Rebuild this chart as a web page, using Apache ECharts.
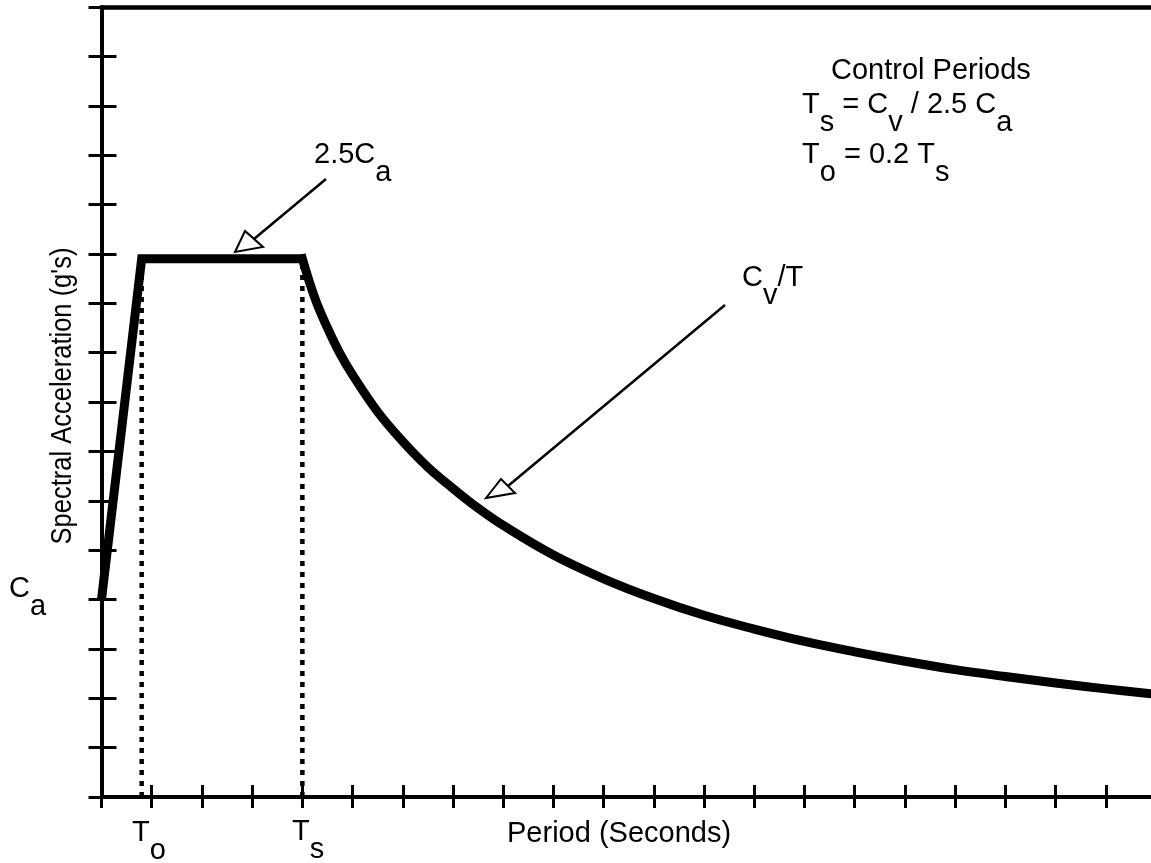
<!DOCTYPE html>
<html><head><meta charset="utf-8">
<script src="https://cdn.jsdelivr.net/npm/echarts@6/dist/echarts.min.js"></script>
<style>html,body{margin:0;padding:0;background:#fff}#c{width:1151px;height:863px}</style>
</head><body><div id="c"></div>
<script>
// ---- data ----
const xTicks = [0,1,2,3,4,5,6,7,8,9,10,11,12,13,14,15,16,17,18,19,20];
const yTicks = [0,1,2,3,4,5,6,7,8,9,10,11,12,13,14,15,16];
const T0 = 0.8;
const TS = 4.0;
const plateauValue = 10.9;
const rampPlateau = [[0,4.0],[0.8,10.9],[4.0,10.9]];
const decayPeriods = [4.0,4.25,4.5,4.75,5.0,5.5,6.0,6.5,7.0,7.5,8.0,9.0,10,11,12,13,14,15,16,17,18,19,20,20.9];
const decayValues  = [10.9,10.1,9.5,8.98,8.55,7.8,7.2,6.68,6.25,5.85,5.5,4.9,4.42,4.02,3.68,3.4,3.15,2.94,2.75,2.58,2.44,2.31,2.19,2.09];

// ---- text annotations [rich text, left px, baseline px] ----
const labels = [
  ['{n|Period (Seconds)}', 507, 843],
  ['{n|T}{s|o}', 132, 842],
  ['{n|T}{s|s}', 292, 841],
  ['{n|C}{s|a}', 9, 598],
  ['{n|2.5C}{s|a}', 314, 164],
  ['{n|C}{s|v}{n|/T}', 742, 287],
  ['{n|Control Periods}', 831, 80],
  ['{n|T}{s|s}{n| = C}{s|v}{n| / 2.5 C}{s|a}', 802, 114],
  ['{n|T}{s|o}{n| = 0.2 T}{s|s}', 802, 164]
];
const arrows = [
  {from:[326,179], tip:[235,252], c1:[245,231], c2:[263,247]},
  {from:[725,305], tip:[486,498], c1:[501,479], c2:[515,493]}
];

const FS = 29, SUB = 18, FF = '"Liberation Sans", Arial, Helvetica, sans-serif';

const chart = echarts.init(document.getElementById('c'), null, {renderer:'canvas'});

const graphics = [];
labels.forEach(([t, x, b]) => {
  graphics.push({type:'text', x:x, y:b - 0.81*FS, z:100,
    style:{text:t, fontSize:FS, fontFamily:FF, fill:'#000', textAlign:'left', textVerticalAlign:'top',
      rich:{
        n:{fontSize:FS, fontFamily:FF, fill:'#000', verticalAlign:'top'},
        s:{fontSize:FS, fontFamily:FF, fill:'#000', verticalAlign:'top', padding:[SUB,0,0,0]}
      }}});
});
graphics.push({type:'text', x:63, y:396, rotation:Math.PI/2, scaleY:1.15, z:100,
  style:{text:"Spectral Acceleration (g's)", fontSize:25.5, fontFamily:FF, fill:'#000', textAlign:'center', textVerticalAlign:'middle'}});
arrows.forEach(a => {
  const bx = (a.c1[0]+a.c2[0])/2, by = (a.c1[1]+a.c2[1])/2;
  graphics.push({type:'line', z:100, shape:{x1:a.from[0], y1:a.from[1], x2:bx, y2:by}, style:{stroke:'#000', lineWidth:2.5}});
  graphics.push({type:'polygon', z:101, shape:{points:[a.tip, a.c1, a.c2]}, style:{fill:'#fff', stroke:'#000', lineWidth:2, lineJoin:'miter'}});
});

const axisBase = {type:'value', axisLabel:{show:false}, splitLine:{show:false}};
const blk = '#000';

const option = {
  animation:false,
  backgroundColor:'#fff',
  grid:{left:101.5, right:0, top:7, bottom:66},
  xAxis:[
    Object.assign({}, axisBase, {min:0, max:20.9, position:'bottom',
      axisLine:{show:true, onZero:false, lineStyle:{color:blk, width:4}},
      axisTick:{show:true, inside:false, length:11, customValues:xTicks, lineStyle:{color:blk, width:3}}}),
    Object.assign({}, axisBase, {min:0, max:20.9, position:'bottom',
      axisLine:{show:false, onZero:false},
      axisTick:{show:true, inside:true, length:12, customValues:xTicks, lineStyle:{color:blk, width:3}}}),
    Object.assign({}, axisBase, {min:0, max:20.9, position:'top',
      axisLine:{show:true, onZero:false, lineStyle:{color:blk, width:4.5}},
      axisTick:{show:false}})
  ],
  yAxis:[
    Object.assign({}, axisBase, {min:0, max:16, position:'left',
      axisLine:{show:true, onZero:false, lineStyle:{color:blk, width:4}},
      axisTick:{show:true, inside:false, length:13, customValues:yTicks, lineStyle:{color:blk, width:3}}}),
    Object.assign({}, axisBase, {min:0, max:16, position:'left',
      axisLine:{show:false, onZero:false},
      axisTick:{show:true, inside:true, length:15, customValues:yTicks, lineStyle:{color:blk, width:3}}})
  ],
  series:[
    {type:'line', symbol:'none', z:1, silent:true,
     data:[[T0,0],[T0,plateauValue]], lineStyle:{color:blk, width:4.5, type:[5,6], cap:'butt'}},
    {type:'line', symbol:'none', z:1, silent:true,
     data:[[TS,0],[TS,plateauValue]], lineStyle:{color:blk, width:4.5, type:[5,6], cap:'butt'}},
    {type:'line', symbol:'none', z:3, silent:true,
     data: rampPlateau,
     lineStyle:{color:blk, width:9, join:'miter', cap:'butt', miterLimit:10}},
    {type:'line', symbol:'none', z:3, silent:true, smooth:0.4,
     data: decayPeriods.map((p,i)=>[p, decayValues[i]]),
     lineStyle:{color:blk, width:9, join:'round', cap:'square'}}
  ],
  graphic: graphics
};
chart.setOption(option);
</script></body></html>
